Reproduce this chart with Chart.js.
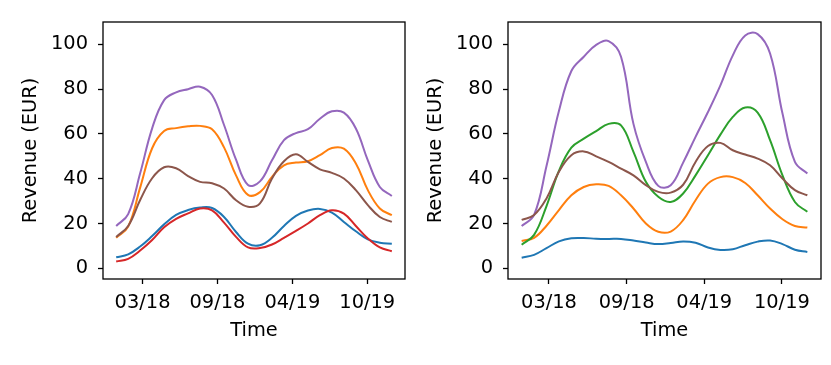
<!DOCTYPE html>
<html>
<head>
<meta charset="utf-8">
<script src="https://cdn.jsdelivr.net/npm/chart.js@4.4.1/dist/chart.umd.min.js"></script>
<style>
  body { margin: 0; background: #fff; }
  #wrap { position: relative; width: 831px; height: 365px; }
  canvas { position: absolute; top: 0; }
</style>
</head>
<body>
<div id="wrap">
  <canvas id="leftChart" width="415" height="365" style="left:0"></canvas>
  <canvas id="rightChart" width="416" height="365" style="left:415px"></canvas>
</div>
<script>
// month index of each sample (x axis)
const months = [0, 1, 2, 3, 4, 5, 6, 7, 8, 9, 10, 11, 12, 13, 14, 15, 16, 17, 18, 19, 20, 21, 22, 23];
const tickPos = [2.2, 8.45, 14.7, 20.95];
const tickLabels = ['03/18', '09/18', '04/19', '10/19'];
const yTicks = [0, 20, 40, 60, 80, 100];

// left panel
const leftBlue   = [4.9, 6.2, 9.7, 14.4, 19.6, 23.8, 26.0, 27.1, 26.9, 22.9, 16.2, 11.0, 10.3, 13.6, 18.9, 23.4, 25.8, 26.5, 24.9, 20.7, 16.5, 12.9, 11.4, 11.0];
const leftOrange = [13.6, 18.6, 36.0, 53.6, 61.3, 62.6, 63.4, 63.6, 62.1, 54.0, 41.5, 32.8, 34.0, 40.8, 46.0, 47.2, 47.8, 50.5, 53.7, 53.4, 46.8, 34.9, 26.7, 23.7];
const leftRed    = [3.0, 4.2, 7.9, 12.6, 18.3, 22.1, 24.5, 26.7, 25.9, 20.4, 14.0, 9.3, 9.0, 10.6, 13.6, 16.7, 20.0, 23.7, 25.9, 24.4, 18.9, 13.3, 9.3, 7.6];
const leftPurple = [18.9, 24.2, 42.4, 62.5, 75.1, 78.6, 80.0, 81.1, 77.4, 64.0, 48.5, 37.2, 38.8, 48.2, 57.2, 60.4, 62.1, 66.8, 70.1, 69.5, 62.4, 48.2, 36.3, 32.3];
const leftBrown  = [14.0, 18.9, 30.5, 40.2, 45.1, 44.7, 41.2, 38.6, 38.0, 35.6, 30.4, 27.5, 29.0, 40.1, 47.8, 50.9, 47.5, 44.2, 42.6, 40.1, 34.9, 28.2, 22.9, 20.7];

// right panel
const rightBlue   = [4.7, 6.0, 9.0, 12.0, 13.4, 13.5, 13.2, 13.1, 13.1, 12.4, 11.5, 10.8, 11.3, 12.0, 11.4, 9.3, 8.2, 8.5, 10.3, 11.9, 12.4, 10.8, 8.3, 7.3];
const rightOrange = [12.2, 13.6, 19.0, 26.0, 32.6, 36.3, 37.5, 36.8, 32.6, 26.7, 20.0, 16.3, 16.4, 21.5, 30.4, 37.8, 40.7, 40.7, 38.1, 32.6, 26.7, 21.9, 18.9, 18.2];
const rightGreen  = [10.5, 14.9, 27.8, 43.5, 53.9, 57.9, 61.3, 64.5, 63.8, 52.0, 38.6, 31.9, 29.6, 33.4, 41.5, 50.5, 59.7, 67.6, 71.8, 69.5, 57.2, 41.5, 29.6, 25.2];
const rightPurple = [18.9, 23.8, 45.7, 70.2, 88.1, 94.5, 99.8, 101.5, 94.5, 64.5, 47.5, 36.8, 37.1, 47.2, 58.7, 69.8, 81.7, 95.1, 104.0, 104.6, 95.9, 69.1, 47.5, 42.3];
const rightBrown  = [21.6, 23.8, 31.2, 43.1, 50.5, 52.2, 50.0, 47.5, 44.5, 41.5, 37.1, 34.1, 33.8, 37.3, 47.5, 54.6, 56.0, 52.7, 50.8, 49.0, 46.0, 40.1, 34.9, 32.6];

const BLUE = '#1f77b4', ORANGE = '#ff7f0e', GREEN = '#2ca02c', RED = '#d62728', PURPLE = '#9467bd', BROWN = '#8c564b';

const FONT = { family: 'DejaVu Sans', size: 19.4 };
Chart.defaults.color = '#000';

// matplotlib-like frame round the plot area
const boxPlugin = {
  id: 'box',
  afterDraw(chart) {
    const a = chart.chartArea;
    const c = chart.ctx;
    c.save();
    c.strokeStyle = '#000';
    c.lineWidth = 1.3;
    c.strokeRect(a.left, a.top, a.right - a.left, a.bottom - a.top);
    c.restore();
  }
};

function makeChart(id, series, yWidth, yTitlePad) {
  const n = series.length;
  const datasets = series.map((s, i) => ({
    data: months.map((m, k) => ({ x: m, y: s.values[k] })),
    borderColor: s.color,
    borderWidth: 2,
    pointRadius: 0,
    tension: 0.4,
    fill: false,
    order: n - i
  }));

  return new Chart(document.getElementById(id), {
    type: 'line',
    data: { datasets: datasets },
    options: {
      responsive: false,
      animation: false,
      devicePixelRatio: 1,
      layout: { padding: { top: 22, right: 10, left: 0, bottom: 0 } },
      plugins: { legend: { display: false }, tooltip: { enabled: false } },
      scales: {
        x: {
          type: 'linear',
          min: -1.1,
          max: 24.1,
          afterBuildTicks: axis => { axis.ticks = tickPos.map(v => ({ value: v })); },
          afterFit: axis => { axis.height = 86; },
          ticks: {
            autoSkip: false,
            maxRotation: 0,
            padding: 7,
            font: FONT,
            callback: (v, i) => tickLabels[i]
          },
          grid: { drawOnChartArea: false, tickLength: 5, tickColor: '#000', tickWidth: 1.3 },
          border: { display: false },
          title: { display: true, text: 'Time', font: FONT, padding: { top: 0, bottom: 22 } }
        },
        y: {
          min: -4.8,
          max: 110,
          afterBuildTicks: axis => { axis.ticks = yTicks.map(v => ({ value: v })); },
          afterFit: axis => { axis.width = yWidth; },
          ticks: { padding: 10, font: FONT },
          grid: { drawOnChartArea: false, tickLength: 5, tickColor: '#000', tickWidth: 1.3 },
          border: { display: false },
          title: { display: true, text: 'Revenue (EUR)', font: FONT, padding: { top: yTitlePad, bottom: 0 } }
        }
      }
    },
    plugins: [boxPlugin]
  });
}

makeChart('leftChart', [
  { values: leftBlue, color: BLUE },
  { values: leftOrange, color: ORANGE },
  { values: leftRed, color: RED },
  { values: leftPurple, color: PURPLE },
  { values: leftBrown, color: BROWN }
], 103, 19.4);

makeChart('rightChart', [
  { values: rightBlue, color: BLUE },
  { values: rightOrange, color: ORANGE },
  { values: rightGreen, color: GREEN },
  { values: rightPurple, color: PURPLE },
  { values: rightBrown, color: BROWN }
], 93, 9.4);
</script>
</body>
</html>
